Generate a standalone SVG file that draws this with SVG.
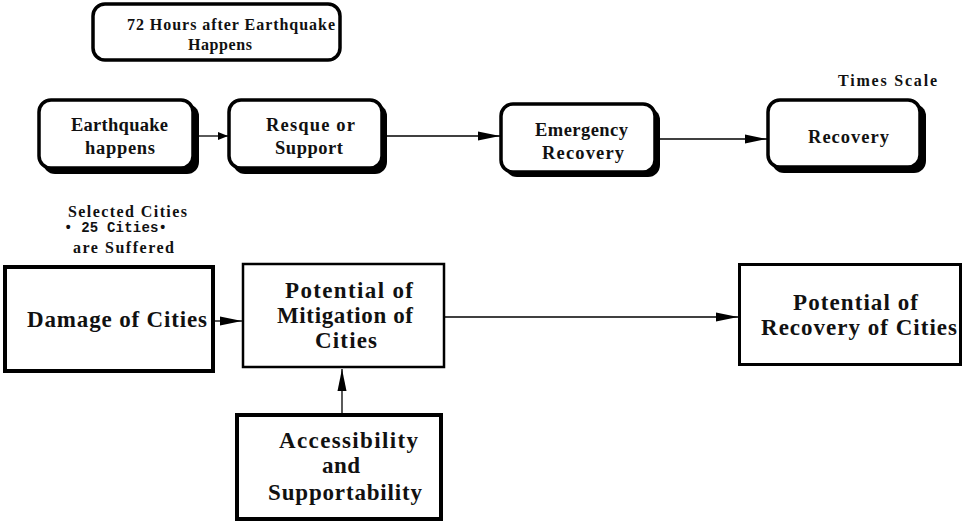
<svg xmlns="http://www.w3.org/2000/svg" width="978" height="522" viewBox="0 0 978 522">
<style>
text{font-family:"Liberation Serif","Times New Roman",serif;font-weight:bold;fill:#111}
.t15{font-size:16px}
.t17{font-size:18.5px}
.t21{font-size:23px}
.mono{font-family:"Liberation Mono","Courier New",monospace;font-size:14px}
.rbox{fill:#fff;stroke:#000;stroke-width:3.5}
.shadow{fill:#000}
.sq{fill:#fff;stroke:#000}
.conn{stroke:#000;fill:none;stroke-width:1.3}
</style>
<defs>
<marker id="ah" markerWidth="10" markerHeight="8" refX="10" refY="4" orient="auto" markerUnits="userSpaceOnUse">
<path d="M0,0 L10,4 L0,8 Z" fill="#000"/>
</marker>
<marker id="ahL" markerWidth="22" markerHeight="10" refX="22" refY="5" orient="auto" markerUnits="userSpaceOnUse">
<path d="M0,0.5 L22,5 L0,9.5 Z" fill="#000"/>
</marker>
</defs>

<g id="label-72h">
<rect x="93" y="4" width="247" height="56" rx="12" class="rbox" stroke-width="3"/>
<text class="t15" x="127" y="30" textLength="208" lengthAdjust="spacing">72 Hours after Earthquake</text>
<text class="t15" x="188" y="50" textLength="64" lengthAdjust="spacing">Happens</text>
</g>

<g id="times-scale">
<text class="t15" x="838" y="86" textLength="99" lengthAdjust="spacing">Times Scale</text>
</g>

<g id="n-earthquake">
<rect x="43" y="104" width="156" height="70" rx="12" class="shadow"/>
<rect x="39" y="100" width="154" height="68" rx="12" class="rbox"/>
<text class="t17" x="71" y="131" textLength="97" lengthAdjust="spacing">Earthquake</text>
<text class="t17" x="85" y="154" textLength="70" lengthAdjust="spacing">happens</text>
</g>

<g id="n-resque">
<rect x="233" y="104" width="154" height="70" rx="12" class="shadow"/>
<rect x="229" y="100" width="153" height="68" rx="12" class="rbox"/>
<text class="t17" x="266" y="131" textLength="89" lengthAdjust="spacing">Resque or</text>
<text class="t17" x="275" y="154" textLength="68" lengthAdjust="spacing">Support</text>
</g>

<g id="n-emergency">
<rect x="505" y="108" width="155" height="69" rx="12" class="shadow"/>
<rect x="501" y="104" width="154" height="68" rx="12" class="rbox"/>
<text class="t17" x="535" y="136" textLength="93" lengthAdjust="spacing">Emergency</text>
<text class="t17" x="542" y="159" textLength="82" lengthAdjust="spacing">Recovery</text>
</g>

<g id="n-recovery">
<rect x="772" y="104" width="154" height="69" rx="12" class="shadow"/>
<rect x="768" y="100" width="152" height="67" rx="12" class="rbox"/>
<text class="t17" x="808" y="143" textLength="81" lengthAdjust="spacing">Recovery</text>
</g>

<g id="selected-cities">
<text class="t15" x="68" y="217" textLength="119" lengthAdjust="spacing">Selected Cities</text>
<text class="mono" x="64" y="232" textLength="103" lengthAdjust="spacing">• 25 Cities•</text>
<text class="t15" x="73" y="253" textLength="101" lengthAdjust="spacing">are Suffered</text>
</g>

<g id="n-damage">
<rect x="5" y="267" width="208" height="104" class="sq" stroke-width="4"/>
<text class="t21" x="27" y="327" textLength="180" lengthAdjust="spacing">Damage of Cities</text>
</g>

<g id="n-mitigation">
<rect x="243" y="264" width="201" height="103" class="sq" stroke-width="2.5"/>
<text class="t21" x="285" y="298" textLength="128" lengthAdjust="spacing">Potential of</text>
<text class="t21" x="277" y="323" textLength="136" lengthAdjust="spacing">Mitigation of</text>
<text class="t21" x="315" y="348" textLength="62" lengthAdjust="spacing">Cities</text>
</g>

<g id="n-recovery-cities">
<rect x="739.5" y="264.5" width="221" height="100" class="sq" stroke-width="3"/>
<text class="t21" x="793" y="310" textLength="125" lengthAdjust="spacing">Potential of</text>
<text class="t21" x="761" y="335" textLength="196" lengthAdjust="spacing">Recovery of Cities</text>
</g>

<g id="n-access">
<rect x="237" y="415" width="204" height="104" class="sq" stroke-width="4"/>
<text class="t21" x="279" y="448" textLength="139" lengthAdjust="spacing">Accessibility</text>
<text class="t21" x="322" y="473" textLength="38" lengthAdjust="spacing">and</text>
<text class="t21" x="268" y="500" textLength="154" lengthAdjust="spacing">Supportability</text>
</g>

<g id="connectors">
<line x1="196" y1="136" x2="228" y2="136" class="conn" marker-end="url(#ah)"/>
<line x1="387" y1="136" x2="500" y2="136" class="conn" marker-end="url(#ahL)"/>
<line x1="660" y1="139" x2="767" y2="139" class="conn" stroke-width="2" marker-end="url(#ahL)"/>
<line x1="215" y1="321" x2="242" y2="321" class="conn" marker-end="url(#ahL)"/>
<line x1="445" y1="317" x2="738" y2="317" class="conn" marker-end="url(#ahL)"/>
<line x1="342" y1="413" x2="342" y2="369" class="conn" marker-end="url(#ahL)"/>
</g>
</svg>
